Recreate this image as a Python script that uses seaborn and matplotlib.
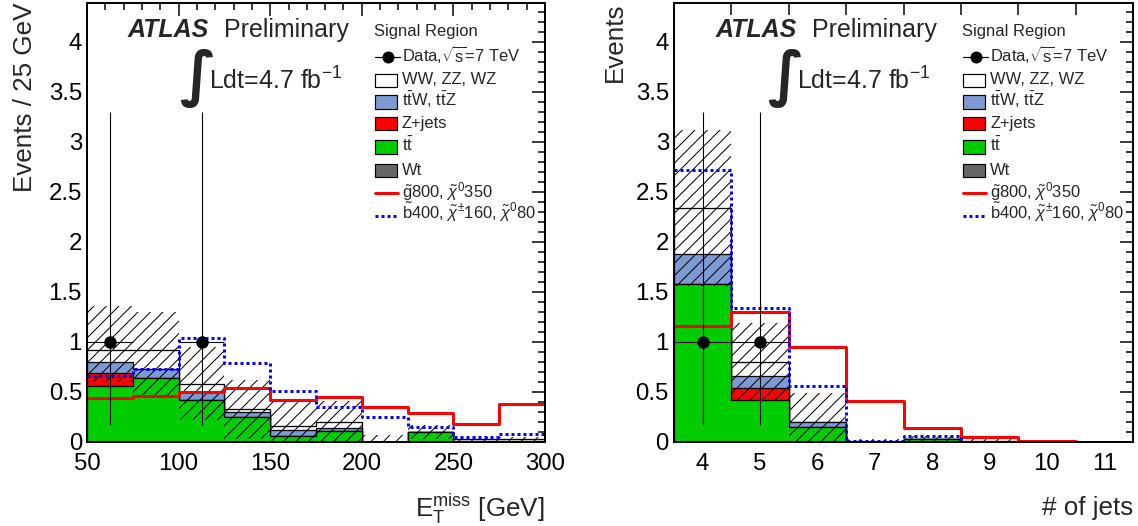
import numpy as np
import pandas as pd
import matplotlib
matplotlib.use("Agg")
import matplotlib.pyplot as plt
import seaborn as sns
from matplotlib.lines import Line2D
from matplotlib.patches import Rectangle
from matplotlib.ticker import MultipleLocator, FixedLocator, FuncFormatter

# ---------------- data : E_T^miss panel ----------------
met_edges = [50, 75, 100, 125, 150, 175, 200, 225, 250, 275, 300]
met_wt = [0.0, 0.0, 0.0, 0.0, 0.0, 0.0, 0.0, 0.0, 0.0, 0.0]
met_tt = [0.56, 0.64, 0.42, 0.25, 0.06, 0.11, 0.0, 0.10, 0.0, 0.0]
met_zj = [0.13, 0.0, 0.0, 0.0, 0.0, 0.0, 0.0, 0.0, 0.0, 0.0]
met_ttv = [0.11, 0.09, 0.08, 0.05, 0.06, 0.03, 0.0, 0.0, 0.01, 0.01]
met_vv = [0.12, 0.19, 0.08, 0.03, 0.04, 0.06, 0.0, 0.0, 0.02, 0.02]
met_band_lo = [0.60, 0.46, 0.22, 0.03, 0.0, 0.0, 0.0, 0.03, 0.0, 0.0]
met_band_hi = [1.36, 1.30, 0.95, 0.62, 0.42, 0.41, 0.07, 0.17, 0.05, 0.05]
met_sig_gluino = [0.44, 0.46, 0.50, 0.54, 0.42, 0.45, 0.35, 0.29, 0.18, 0.38]
met_sig_sbottom = [0.66, 0.73, 1.04, 0.79, 0.51, 0.35, 0.25, 0.15, 0.05, 0.08]
met_data_x = [62.5, 112.5]
met_data_y = [1.0, 1.0]
met_data_xerr = [12.5, 12.5]
met_data_err_lo = [0.83, 0.83]
met_data_err_hi = [2.30, 2.30]
met_ticks = [50, 100, 150, 200, 250, 300]

# ---------------- data : number of jets panel ----------------
jet_edges = [3.5, 4.5, 5.5, 6.5, 7.5, 8.5, 9.5, 10.5, 11.5]
jet_labels = ["4", "5", "6", "7", "8", "9", "10", "11"]
jet_wt = [0.0, 0.0, 0.0, 0.0, 0.0, 0.0, 0.0, 0.0]
jet_tt = [1.58, 0.42, 0.15, 0.0, 0.03, 0.0, 0.0, 0.0]
jet_zj = [0.0, 0.12, 0.0, 0.0, 0.0, 0.0, 0.0, 0.0]
jet_ttv = [0.30, 0.12, 0.05, 0.0, 0.0, 0.0, 0.0, 0.0]
jet_vv = [0.46, 0.14, 0.0, 0.0, 0.0, 0.01, 0.0, 0.0]
jet_band_lo = [1.56, 0.42, 0.0, 0.0, 0.0, 0.0, 0.0, 0.0]
jet_band_hi = [3.12, 1.19, 0.49, 0.03, 0.06, 0.03, 0.0, 0.0]
jet_sig_gluino = [1.16, 1.30, 0.95, 0.41, 0.145, 0.055, 0.012, 0.005]
jet_sig_sbottom = [2.72, 1.34, 0.56, 0.01, 0.06, 0.0, 0.0, 0.0]
jet_data_x = [4.0, 5.0]
jet_data_y = [1.0, 1.0]
jet_data_xerr = [0.5, 0.5]
jet_data_err_lo = [0.83, 0.83]
jet_data_err_hi = [2.30, 2.30]

legend_labels = [
    r"Data,$\sqrt{\mathrm{s}}$=7 TeV",
    "WW, ZZ, WZ",
    r"t$\bar{\mathrm{t}}$W, t$\bar{\mathrm{t}}$Z",
    "Z+jets",
    r"t$\bar{\mathrm{t}}$",
    "Wt",
    r"$\tilde{\mathrm{g}}$800, $\tilde{\chi}^{0}$350",
    r"$\tilde{\mathrm{b}}$400, $\tilde{\chi}^{\pm}$160, $\tilde{\chi}^{0}$80",
]

# ---------------- style ----------------
C_WT, C_TT, C_ZJ, C_TTV, C_VV = "#666666", "#00cc00", "#ff0000", "#7d9bd2", "#ffffff"
C_GLU, C_SBOT = "#ff0000", "#0000ff"

W, H, DPI = 1138, 526, 75
PT = 72.0 / DPI  # points per pixel

sns.set_style("white")
plt.rcParams["font.family"] = ["Liberation Sans", "DejaVu Sans"]
plt.rcParams["mathtext.fontset"] = "custom"
plt.rcParams["mathtext.rm"] = "Liberation Sans"
plt.rcParams["mathtext.it"] = "Liberation Sans:italic"
plt.rcParams["mathtext.bf"] = "Liberation Sans:bold"
plt.rcParams["mathtext.sf"] = "Liberation Sans"
plt.rcParams["hatch.linewidth"] = 1.0 * PT
plt.rcParams["hatch.color"] = "black"
plt.rcParams["axes.axisbelow"] = False

fig = plt.figure(figsize=(W / DPI, H / DPI), dpi=DPI)
fig.patch.set_facecolor("white")


def fx(x):
    return x / W


def fy(y):
    return 1 - y / H


ax1 = fig.add_axes([fx(87), fy(442), (545 - 87) / W, (442 - 3) / H])
ax2 = fig.add_axes([fx(674), fy(442), (1133 - 674) / W, (442 - 3) / H])


def draw_panel(ax, edges, wt, tt, zj, ttv, vv, lo, hi, sg, sb,
               dx, dy, dxerr, dlo, dhi):
    edges = [float(e) for e in edges]
    centers = [0.5 * (a + b) for a, b in zip(edges[:-1], edges[1:])]
    comps = np.array([wt, tt, zj, ttv, vv], float)
    colors = [C_WT, C_TT, C_ZJ, C_TTV, C_VV]
    cum = np.cumsum(comps, axis=0)
    for k in range(len(comps) - 1, -1, -1):
        df = pd.DataFrame({"x": centers, "w": cum[k]})
        sns.histplot(data=df, x="x", weights="w", bins=edges, element="step",
                     fill=True, color=colors[k], alpha=1, edgecolor="black",
                     linewidth=1.3 * PT, ax=ax, zorder=1)
    lo_s = np.append(lo, lo[-1])
    hi_s = np.append(hi, hi[-1])
    ax.fill_between(edges, lo_s, hi_s, step="post", facecolor="none",
                    edgecolor="black", hatch="//", linewidth=0, zorder=1.3)
    dsg = pd.DataFrame({"x": centers, "w": sg})
    sns.histplot(data=dsg, x="x", weights="w", bins=edges, element="step",
                 fill=False, color=C_GLU, linewidth=3 * PT, ax=ax, zorder=2)
    dsb = pd.DataFrame({"x": centers, "w": sb})
    sns.histplot(data=dsb, x="x", weights="w", bins=edges, element="step",
                 fill=False, color=C_SBOT, linewidth=3 * PT,
                 linestyle=(0, (1, 1)), ax=ax, zorder=2.1)
    ax.errorbar(dx, dy, yerr=[dlo, dhi], xerr=dxerr, fmt="none", ecolor="black",
                elinewidth=1.1 * PT, capsize=0, zorder=4)
    sns.scatterplot(x=dx, y=dy, color="black", s=(12.5 * PT) ** 2,
                    edgecolor="black", linewidth=0, ax=ax, zorder=5, legend=False)
    ax.set_xlim(edges[0], edges[-1])
    ax.set_ylim(0, 4.39)


draw_panel(ax1, met_edges, met_wt, met_tt, met_zj, met_ttv, met_vv,
           met_band_lo, met_band_hi, met_sig_gluino, met_sig_sbottom,
           met_data_x, met_data_y, met_data_xerr, met_data_err_lo, met_data_err_hi)
draw_panel(ax2, jet_edges, jet_wt, jet_tt, jet_zj, jet_ttv, jet_vv,
           jet_band_lo, jet_band_hi, jet_sig_gluino, jet_sig_sbottom,
           jet_data_x, jet_data_y, jet_data_xerr, jet_data_err_lo, jet_data_err_hi)

TICK_FS = 24 * PT
LABEL_FS = 26 * PT
fmt = FuncFormatter(lambda v, p: f"{v:g}")

for ax in (ax1, ax2):
    for s in ax.spines.values():
        s.set_linewidth(2 * PT)
        s.set_color("black")
    ax.yaxis.set_major_locator(MultipleLocator(0.5))
    ax.yaxis.set_minor_locator(MultipleLocator(0.1))
    ax.yaxis.set_major_formatter(fmt)
    ax.tick_params(which="both", direction="in", top=True, right=True,
                   width=1.5 * PT, colors="black", labelsize=TICK_FS)
    ax.tick_params(which="major", length=13 * PT)
    ax.tick_params(which="minor", length=7 * PT)
    ax.tick_params(axis="y", which="major", pad=5 * PT)
    ax.tick_params(axis="x", which="major", pad=11 * PT)

ax1.xaxis.set_major_locator(FixedLocator(met_ticks))
ax1.xaxis.set_minor_locator(MultipleLocator(10))
ax1.xaxis.set_major_formatter(fmt)

jet_centers = [0.5 * (a + b) for a, b in zip(jet_edges[:-1], jet_edges[1:])]
ax2.set_xticks(jet_centers)
ax2.set_xticklabels(jet_labels)
ax2.xaxis.set_minor_locator(FixedLocator(jet_edges[1:-1]))
ax2.tick_params(axis="x", which="major", length=0)
ax2.tick_params(axis="x", which="minor", length=12 * PT)

ax1.set_ylabel("Events / 25 GeV", loc="top", fontsize=LABEL_FS)
ax1.yaxis.set_label_coords((37.5 - 87) / 458, 1.0)
ax2.set_ylabel("Events", loc="top", fontsize=LABEL_FS)
ax2.yaxis.set_label_coords((626.5 - 674) / 459, 1.0)
ax1.set_xlabel(r"E$_{\mathrm{T}}^{\mathrm{miss}}$ [GeV]", loc="right", fontsize=LABEL_FS)
ax1.xaxis.set_label_coords(1.0, -(492 - 442) / 439)
ax2.set_xlabel("# of jets", loc="right", fontsize=LABEL_FS)
ax2.xaxis.set_label_coords(1.0, -(496 - 442) / 439)

# ---------------- annotations and legends ----------------
LEG_FS = 16.5 * PT
entry_base = [61.5, 84, 106, 128, 151, 175, 197.5, 219.5]
entry_mid = [56.7, 80.5, 102, 123.5, 147, 170.5, 192.8, 215.5]
kinds = ["data", ("box", C_VV), ("box", C_TTV), ("box", C_ZJ), ("box", C_TT),
         ("box", C_WT), ("line", C_GLU, "-"), ("line", C_SBOT, (0, (1, 1)))]

for dxp in (0, 588):
    fig.text(fx(128 + dxp), fy(37), "ATLAS", fontsize=25 * PT, fontweight="bold",
             fontstyle="italic", va="baseline", ha="left")
    fig.text(fx(224 + dxp), fy(37), "Preliminary", fontsize=25 * PT,
             va="baseline", ha="left")
    fig.text(fx(197 + dxp), fy(78), "\u222b", fontsize=60 * PT, va="center",
             ha="center", family=["DejaVu Sans"], fontweight="bold")
    fig.text(fx(209 + dxp), fy(90), r"Ldt=4.7 fb$^{\mathrm{-1}}$", fontsize=25 * PT,
             va="baseline", ha="left")
    fig.text(fx(374 + dxp), fy(36), "Signal Region", fontsize=LEG_FS,
             va="baseline", ha="left")
    for lab, yb, ym, kind in zip(legend_labels, entry_base, entry_mid, kinds):
        x0 = 375 + dxp
        if kind == "data":
            fig.add_artist(Line2D([fx(x0), fx(x0 + 25)], [fy(ym), fy(ym)],
                                  transform=fig.transFigure, color="black",
                                  lw=1.2 * PT))
            fig.add_artist(Line2D([fx(x0 + 12.5)], [fy(ym)], transform=fig.transFigure,
                                  marker="o", markersize=12 * PT, color="black",
                                  markeredgewidth=0))
        elif kind[0] == "box":
            fig.add_artist(Rectangle((fx(x0), fy(ym + 6.5)), 22 / W, 13 / H,
                                     transform=fig.transFigure, facecolor=kind[1],
                                     edgecolor="black", lw=1.2 * PT))
        else:
            fig.add_artist(Line2D([fx(x0), fx(x0 + 23)], [fy(ym), fy(ym)],
                                  transform=fig.transFigure, color=kind[1],
                                  lw=3 * PT, ls=kind[2]))
        fig.text(fx(402 + dxp), fy(yb), lab, fontsize=LEG_FS, va="baseline",
                 ha="left")

fig.savefig("out.png", dpi=DPI, facecolor="white")
